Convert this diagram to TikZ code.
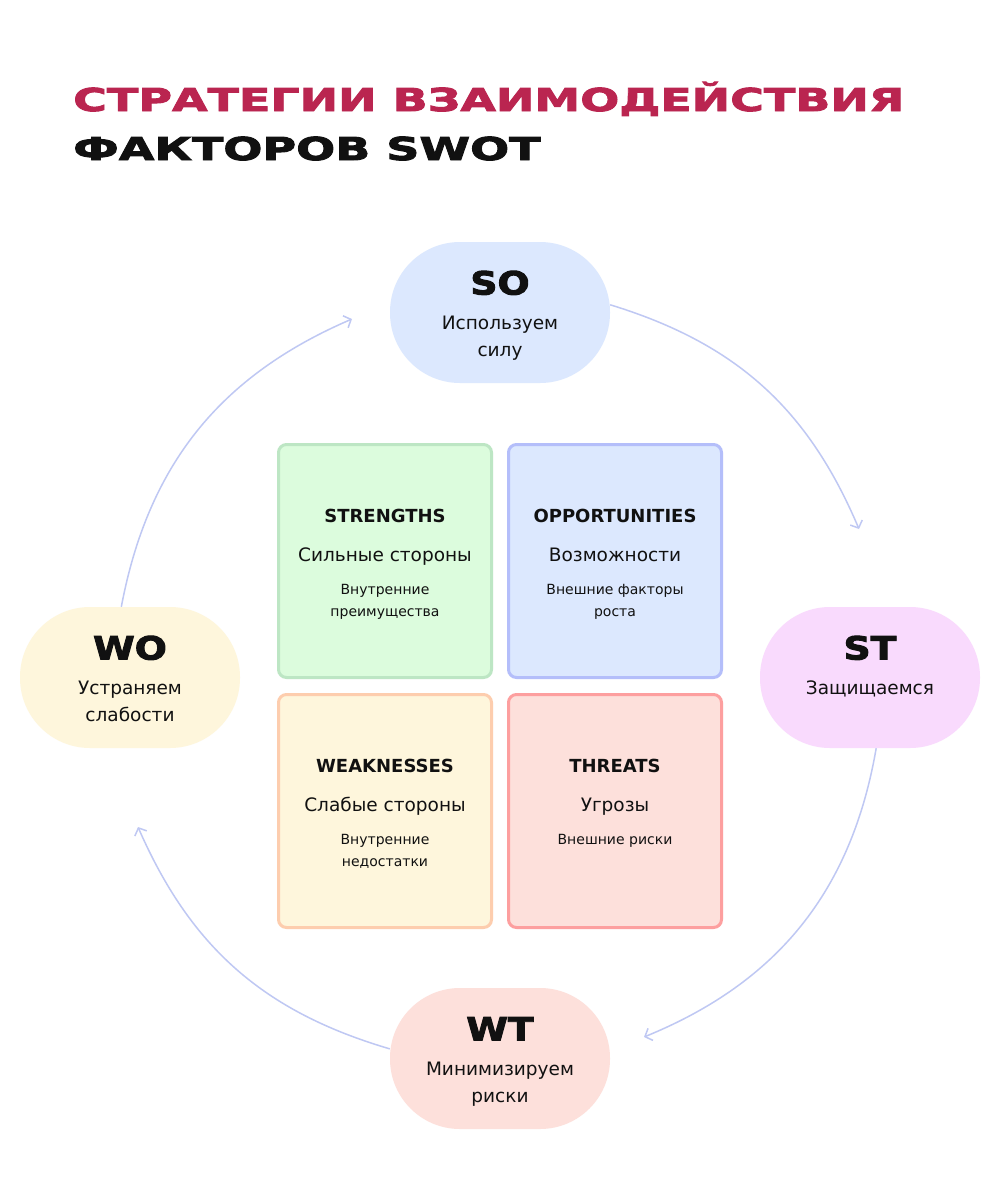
\documentclass[tikz,border=0pt]{standalone}
\usepackage{fontspec}
\setmainfont{DejaVu Sans}
\newfontface\widefont{DejaVu Sans Bold}[FakeStretch=1.46, FakeBold=3]
\newfontface\capfont{DejaVu Sans Bold}[FakeStretch=1.18, FakeBold=3]
\usetikzlibrary{arrows.meta}

\definecolor{titleRed}{HTML}{BA2550}
\definecolor{inkBlack}{HTML}{111111}
\definecolor{flowBlue}{HTML}{BFC8F3}
\definecolor{greenFill}{HTML}{DCFCDD}
\definecolor{greenLine}{HTML}{BDE6C4}
\definecolor{blueFill}{HTML}{DCE8FE}
\definecolor{blueLine}{HTML}{B4BEFA}
\definecolor{yellowFill}{HTML}{FEF6DC}
\definecolor{yellowLine}{HTML}{FDCDAE}
\definecolor{redFill}{HTML}{FDE0DB}
\definecolor{redLine}{HTML}{FD9F9F}
\definecolor{pinkFill}{HTML}{F9DAFD}

\tikzset{
	quad/.style={draw, line width=3pt, rounded corners=8pt, minimum width=213pt, minimum height=233pt},
	capsule/.style={rounded corners=70pt, minimum width=220pt, minimum height=141pt, inner sep=0pt},
	line text/.style={anchor=base, inner sep=0pt},
	flowline/.style={draw=flowBlue, line width=1.5pt, -{Straight Barb[length=6pt, width=13pt]}},
}

\newcommand{\swotBox}[8][]{
	\path (#2,#3) node[quad, #1](#4){};
	\path (#4.center) ++(0,-39) node[line text, font=\bfseries\fontsize{18}{22}\selectfont](#4-head){#5};
	\path (#4.center) ++(0,0) node[line text, font=\fontsize{18.5}{22}\selectfont](#4-sub){#6};
	\path (#4.center) ++(0,33) node[line text, font=\fontsize{14}{22}\selectfont](#4-note){#7};
	\path (#4.center) ++(0,55) node[line text, font=\fontsize{14}{22}\selectfont](#4-more){#8};
}
\newcommand{\stratCapsule}[7][]{
	\path (#2,#3) node[capsule, #1](#4){};
	\path (#4.center) ++(0,-18) node[line text, font=\capfont\fontsize{32}{32}\selectfont](#4-head){#5};
	\path (#4.center) ++(0,17) node[line text, font=\fontsize{18.5}{27}\selectfont](#4-text){#6};
	\path (#4.center) ++(0,44) node[line text, font=\fontsize{18.5}{27}\selectfont](#4-more){#7};
}
\newcommand{\flow}[3][]{
	\draw[flowline, #1] (#2) to (#3);
}

\begin{document}
\begin{tikzpicture}[x=1pt, y=-1pt, text=inkBlack]
	\useasboundingbox[fill=white] (0,0) rectangle (1000,1200);

	\node[line text, anchor=base west, text=titleRed, font=\widefont\fontsize{31.5}{31.5}\selectfont] (title-a) at (73,111) {СТРАТЕГИИ ВЗАИМОДЕЙСТВИЯ};
	\node[line text, anchor=base west, font=\widefont\fontsize{31.5}{31.5}\selectfont] (title-b) at (73,160) {ФАКТОРОВ SWOT};

	\swotBox[fill=greenFill, draw=greenLine]{385}{561}{str}{STRENGTHS}{Сильные стороны}{Внутренние}{преимущества};
	\swotBox[fill=blueFill, draw=blueLine]{615}{561}{opp}{OPPORTUNITIES}{Возможности}{Внешние факторы}{роста};
	\swotBox[fill=yellowFill, draw=yellowLine]{385}{811}{weak}{WEAKNESSES}{Слабые стороны}{Внутренние}{недостатки};
	\swotBox[fill=redFill, draw=redLine]{615}{811}{thr}{THREATS}{Угрозы}{Внешние риски}{};

	\stratCapsule[fill=blueFill]{500}{312.5}{so}{SO}{Используем}{силу};
	\stratCapsule[fill=pinkFill]{870}{677.5}{st}{ST}{Защищаемся}{};
	\stratCapsule[fill=redFill]{500}{1058.5}{wt}{WT}{Минимизируем}{риски};
	\stratCapsule[fill=yellowFill]{130}{677.5}{wo}{WO}{Устраняем}{слабости};

	\coordinate (st-in) at (859,529);
	\coordinate (wt-in) at (644,1037);
	\coordinate (wo-in) at (138,827);
	\coordinate (so-in) at (352,319);

	\flow[bend left=25]{so.4}{st-in};
	\flow[bend left=29]{st.-85}{wt-in};
	\flow[bend left=25]{wt.175}{wo-in};
	\flow[bend left=28]{wo.97}{so-in};
\end{tikzpicture}
\end{document}
